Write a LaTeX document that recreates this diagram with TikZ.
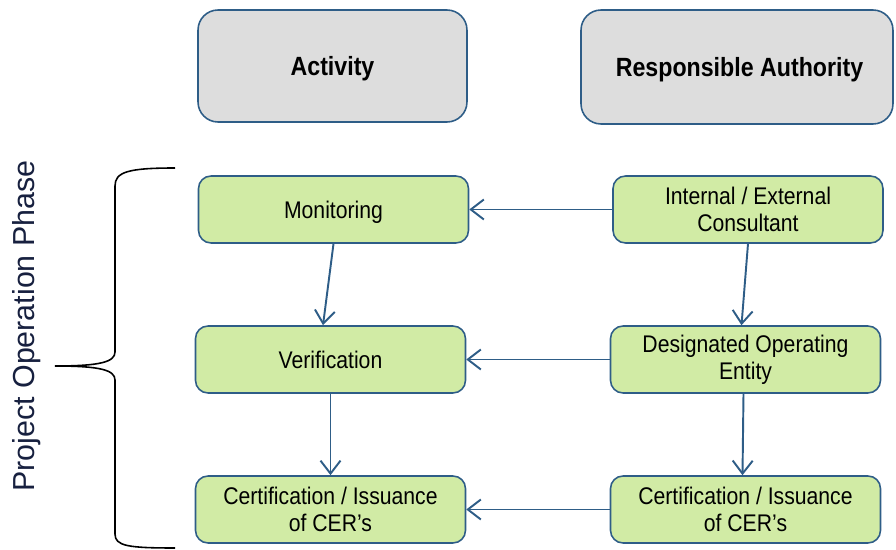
\documentclass[tikz,border=0pt]{standalone}
\usepackage{fontspec}
\setmainfont{Liberation Sans}[FakeStretch=0.88]
\newfontfamily\sidefont{Liberation Sans}
\usetikzlibrary{arrows.meta,positioning}
\definecolor{boxline}{HTML}{2E5D87}
\definecolor{headfill}{HTML}{DDDDDD}
\definecolor{stepfill}{HTML}{D1EBA5}
\definecolor{sidetext}{HTML}{17203F}

\begin{document}
\begin{tikzpicture}[x=0.02cm,y=-0.02cm,
  headbox/.style={draw=boxline,fill=headfill,line width=0.9pt,rounded corners=0.4cm,
    minimum width=5.38cm,minimum height=2.24cm,align=center,text depth=0pt,
    font=\fontsize{15pt}{18pt}\selectfont\bfseries},
  stepbox/.style={draw=boxline,fill=stepfill,line width=0.9pt,rounded corners=0.25cm,
    minimum width=5.4cm,minimum height=1.34cm,align=center,inner sep=2pt,
    font=\fontsize{13.7pt}{15.3pt}\selectfont},
  arr/.style={draw=boxline,line width=1.1pt,-{Straight Barb[length=2.6mm,width=4mm]}}]
\useasboundingbox (0,0) rectangle (896,550);
% column heads
\node[headbox] (act) at (332.5,66) {Activity};
\node[headbox,minimum width=6.24cm,minimum height=2.28cm] (auth) at (737,67) {\hspace{0.1cm}Responsible Authority};
% activities
\node[stepbox,text depth=0pt] (mon) at (333.5,209.5) {Monitoring};
\node[stepbox,text depth=0pt] (ver) at (330.5,359.5) {Verification};
\node[stepbox] (certl) at (330.5,509.5) {Certification / Issuance\\of CER’s};
% authorities
\node[stepbox] (cons) at (748,209.5) {Internal / External\\Consultant};
\node[stepbox] (doe) at (745.5,359.5) {Designated Operating\\Entity};
\node[stepbox] (certr) at (745.5,509.5) {Certification / Issuance\\of CER’s};
% connectors
\draw[arr] (cons) -- (mon);
\draw[arr] (doe) -- (ver);
\draw[arr] (certr) -- (certl);
\draw[arr] (mon.south) -- ([xshift=-0.15cm]ver.north);
\draw[arr] (ver.south) -- (certl.north);
\draw[arr] (cons.south) -- ([xshift=-0.08cm]doe.north);
\draw[arr] ([xshift=-0.04cm]doe.south) -- ([xshift=-0.06cm]certr.north);
% phase brace
\draw[line width=0.9pt] (175,168) .. controls (128,168) and (115,172) .. (115,186)
  -- (115,352) .. controls (115,362) and (100,366) .. (55,366)
  .. controls (100,366) and (115,370) .. (115,380)
  -- (115,534) .. controls (115,546) and (128,548) .. (175,548);
\node[rotate=90,text=sidetext,font=\sidefont\fontsize{17.3pt}{20pt}\selectfont] (phase) at (27,326) {Project Operation Phase};
\end{tikzpicture}
\end{document}
